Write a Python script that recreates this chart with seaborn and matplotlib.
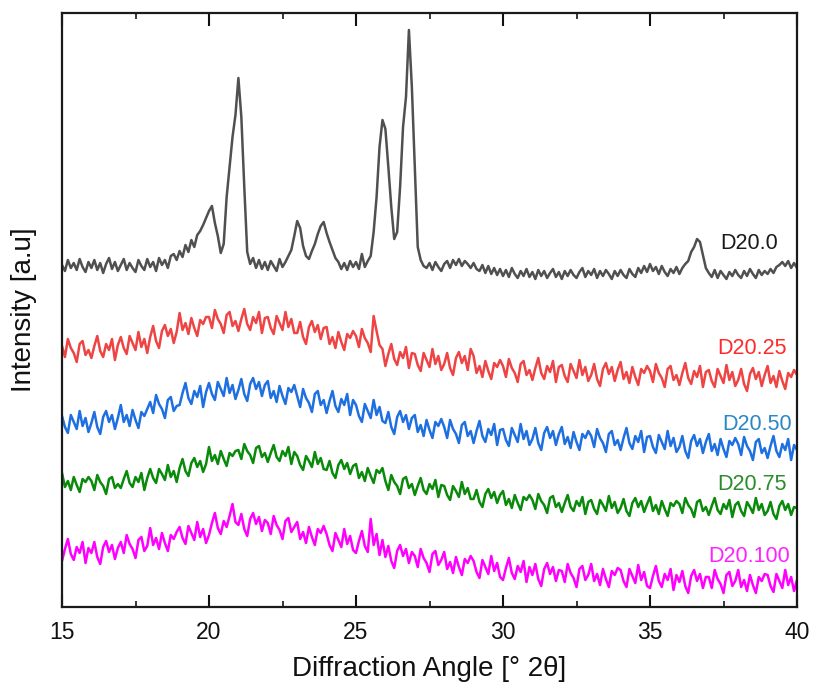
import numpy as np
import pandas as pd
import matplotlib
matplotlib.use("Agg")
import matplotlib.pyplot as plt
import seaborn as sns
from matplotlib.ticker import MultipleLocator

# ---- data (2theta from 15 to 40 deg, 0.1 deg step; stacked intensity, a.u.) ----
two_theta = [round(15 + 0.1 * i, 1) for i in range(251)]

d20_0 = [
    342, 336, 347, 339, 344, 337, 348, 340, 335, 345,
    339, 347, 337, 344, 334, 343, 349, 338, 345, 336,
    342, 348, 337, 344, 339, 335, 347, 341, 337, 348,
    340, 345, 336, 349, 342, 347, 339, 351, 353, 347,
    356, 350, 362, 355, 367, 360, 372, 376, 382, 389,
    396, 401, 384, 371, 354, 363, 410, 440, 470, 492,
    529, 490, 420, 355, 343, 349, 339, 347, 338, 345,
    337, 346, 341, 336, 348, 340, 345, 351, 357, 371,
    386, 379, 361, 351, 348, 356, 363, 373, 381, 385,
    374, 365, 357, 349, 345, 338, 344, 337, 346, 340,
    345, 338, 353, 340, 346, 351, 375, 410, 460, 487,
    478, 440, 400, 368, 375, 420, 480, 510, 577, 520,
    440, 360, 347, 341, 339, 344, 337, 345, 340, 336,
    343, 346, 339, 347, 342, 348, 341, 346, 343, 339,
    344, 338, 336, 342, 334, 341, 333, 339, 332, 338,
    331, 337, 330, 339, 333, 329, 336, 331, 338, 330,
    335, 328, 337, 331, 336, 329, 334, 338, 330, 335,
    328, 336, 331, 337, 332, 329, 335, 339, 330, 336,
    332, 338, 329, 336, 331, 337, 333, 328, 336, 331,
    337, 332, 329, 338, 333, 330, 339, 334, 341, 335,
    343, 336, 340, 333, 341, 335, 331, 338, 334, 340,
    333, 339, 343, 346, 355, 360, 368, 365, 352, 339,
    334, 330, 337, 329, 336, 332, 328, 335, 331, 337,
    332, 329, 336, 331, 338, 333, 329, 337, 332, 336,
    333, 338, 334, 340, 342, 345, 341, 346, 339, 344,
    339,
]

d20_25 = [
    261, 250, 268, 259, 254, 245, 263, 266, 252, 257,
    249, 261, 271, 256, 250, 263, 257, 268, 247, 262,
    270, 259, 253, 271, 264, 257, 275, 260, 268, 254,
    270, 281, 266, 259, 276, 282, 271, 278, 264, 275,
    294, 277, 284, 273, 289, 279, 271, 287, 283, 290,
    290, 279, 297, 288, 283, 274, 292, 295, 281, 286,
    276, 288, 298, 283, 277, 290, 284, 295, 274, 289,
    290, 279, 273, 291, 284, 277, 295, 280, 288, 274,
    274, 285, 270, 263, 280, 286, 275, 282, 268, 279,
    280, 263, 270, 259, 275, 265, 257, 273, 269, 276,
    271, 260, 278, 269, 264, 255, 291, 276, 262, 258,
    241, 253, 263, 248, 242, 255, 249, 260, 239, 254,
    253, 242, 236, 254, 247, 240, 258, 243, 251, 237,
    243, 254, 239, 232, 249, 255, 244, 251, 237, 258,
    251, 234, 241, 230, 246, 236, 228, 244, 240, 247,
    241, 230, 248, 239, 234, 225, 243, 246, 232, 237,
    227, 239, 249, 234, 228, 241, 235, 246, 225, 240,
    242, 231, 225, 243, 236, 229, 247, 232, 240, 226,
    232, 243, 228, 221, 238, 244, 233, 240, 226, 237,
    245, 228, 235, 224, 240, 230, 222, 238, 234, 241,
    236, 225, 243, 234, 229, 220, 238, 241, 227, 232,
    222, 234, 244, 229, 223, 236, 230, 241, 220, 235,
    237, 226, 220, 238, 231, 224, 242, 227, 235, 221,
    227, 238, 223, 216, 233, 239, 228, 235, 221, 232,
    241, 224, 231, 220, 236, 226, 218, 234, 230, 237,
    232,
]

d20_50 = [
    191, 180, 174, 192, 185, 178, 196, 181, 189, 175,
    184, 195, 180, 173, 190, 196, 185, 192, 178, 189,
    202, 185, 192, 181, 197, 187, 179, 195, 191, 198,
    205, 194, 212, 203, 198, 189, 207, 210, 196, 201,
    202, 214, 224, 209, 203, 216, 210, 221, 200, 215,
    224, 213, 207, 225, 218, 211, 229, 214, 222, 208,
    217, 228, 213, 206, 223, 229, 218, 225, 211, 222,
    226, 209, 216, 205, 221, 211, 203, 219, 215, 222,
    211, 200, 218, 209, 204, 195, 213, 216, 202, 207,
    194, 206, 216, 201, 195, 208, 202, 213, 192, 207,
    202, 191, 185, 203, 196, 189, 207, 192, 200, 186,
    184, 195, 180, 173, 190, 196, 185, 192, 178, 189,
    192, 175, 182, 171, 187, 177, 169, 185, 181, 188,
    180, 169, 187, 178, 173, 164, 182, 185, 171, 176,
    164, 176, 186, 171, 165, 178, 172, 183, 162, 177,
    178, 167, 161, 179, 172, 165, 183, 168, 176, 162,
    168, 179, 164, 157, 174, 180, 169, 176, 162, 173,
    180, 163, 170, 159, 175, 165, 157, 173, 169, 176,
    171, 160, 178, 169, 164, 155, 173, 176, 162, 167,
    157, 169, 179, 164, 158, 171, 165, 176, 155, 170,
    171, 160, 154, 172, 165, 158, 176, 161, 169, 155,
    160, 171, 156, 149, 166, 172, 161, 168, 154, 165,
    173, 156, 163, 152, 168, 158, 150, 166, 162, 169,
    163, 152, 170, 161, 156, 147, 165, 168, 154, 159,
    149, 161, 171, 156, 150, 163, 157, 168, 147, 162,
    157,
]

d20_75 = [
    134, 120, 126, 117, 130, 122, 115, 128, 125, 130,
    126, 117, 132, 125, 121, 113, 128, 130, 119, 123,
    119, 128, 136, 124, 120, 130, 125, 134, 117, 129,
    138, 129, 124, 138, 133, 127, 142, 130, 136, 125,
    139, 148, 136, 131, 144, 149, 140, 146, 135, 143,
    160, 146, 152, 143, 156, 148, 141, 154, 151, 156,
    157, 148, 163, 156, 152, 144, 159, 161, 150, 154,
    145, 154, 162, 150, 146, 156, 151, 160, 143, 155,
    151, 142, 137, 151, 146, 140, 155, 143, 149, 138,
    137, 146, 134, 129, 142, 147, 138, 144, 133, 141,
    143, 129, 135, 126, 139, 131, 124, 137, 134, 139,
    126, 117, 132, 125, 121, 113, 128, 130, 119, 123,
    112, 121, 129, 117, 113, 123, 118, 127, 110, 122,
    121, 112, 107, 121, 116, 110, 125, 113, 119, 108,
    108, 117, 105, 100, 113, 118, 109, 115, 104, 112,
    116, 102, 108, 99, 112, 104, 97, 110, 107, 112,
    107, 98, 113, 106, 102, 94, 109, 111, 100, 104,
    95, 104, 112, 100, 96, 106, 101, 110, 93, 105,
    107, 98, 93, 107, 102, 96, 111, 99, 105, 94,
    99, 108, 96, 91, 104, 109, 100, 106, 95, 103,
    110, 96, 102, 93, 106, 98, 91, 104, 101, 106,
    103, 94, 109, 102, 98, 90, 105, 107, 96, 100,
    92, 101, 109, 97, 93, 103, 98, 107, 90, 102,
    105, 96, 91, 105, 100, 94, 109, 97, 103, 92,
    96, 105, 93, 88, 101, 106, 97, 103, 92, 100,
    99,
]

d20_100 = [
    46, 58, 68, 53, 47, 60, 54, 65, 44, 59,
    54, 65, 50, 43, 60, 66, 55, 62, 48, 59,
    65, 54, 72, 63, 58, 49, 67, 70, 56, 61,
    79, 62, 69, 58, 74, 64, 56, 72, 68, 75,
    80, 69, 63, 81, 74, 67, 85, 70, 78, 64,
    72, 84, 94, 79, 73, 86, 80, 91, 103, 85,
    82, 93, 78, 71, 88, 94, 83, 90, 76, 87,
    84, 73, 91, 82, 77, 68, 86, 89, 75, 80,
    85, 68, 75, 64, 80, 70, 62, 78, 74, 81,
    73, 62, 56, 74, 67, 60, 78, 63, 71, 57,
    54, 66, 76, 61, 55, 88, 62, 73, 52, 67,
    50, 61, 46, 39, 56, 62, 51, 58, 44, 55,
    51, 40, 58, 49, 44, 35, 53, 56, 42, 47,
    55, 38, 45, 34, 50, 40, 32, 48, 44, 51,
    46, 35, 29, 47, 40, 33, 51, 36, 44, 30,
    27, 39, 49, 34, 28, 41, 35, 46, 25, 40,
    32, 43, 28, 21, 38, 44, 33, 40, 26, 37,
    36, 25, 43, 34, 29, 20, 38, 41, 27, 32,
    43, 26, 33, 22, 38, 28, 20, 36, 32, 39,
    37, 26, 20, 38, 31, 24, 42, 27, 35, 21,
    19, 31, 41, 26, 20, 33, 27, 38, 17, 32,
    25, 36, 21, 14, 31, 37, 26, 33, 19, 30,
    30, 19, 37, 28, 23, 14, 32, 35, 21, 26,
    37, 20, 27, 16, 32, 22, 14, 30, 26, 33,
    32, 21, 15, 33, 26, 19, 37, 22, 30, 16,
    27,
]

sample_names = ["D20.0", "D20.25", "D20.50", "D20.75", "D20.100"]
series = [d20_0, d20_25, d20_50, d20_75, d20_100]

# ---- styling ----
line_colors = ["#505050", "#EE4444", "#1E6FE0", "#0A8A0A", "#FF00FF"]
label_colors = ["#1a1a1a", "#FF2A2A", "#2A88C4", "#2A8C2A", "#FF22FF"]
label_pos = [(37.38, 363), (37.28, 258), (37.45, 182), (37.28, 122), (36.97, 50)]

sns.set_style("white")
plt.rcParams["font.family"] = ["Liberation Sans", "DejaVu Sans"]

rows = []
for name, vals in zip(sample_names, series):
    for t, v in zip(two_theta, vals):
        rows.append((name, t, v))
df = pd.DataFrame(rows, columns=["sample", "two_theta", "intensity"])

fig = plt.figure(figsize=(8.14, 6.93), dpi=100)
ax = fig.add_axes([62 / 814, 1 - 607 / 693, (797 - 62) / 814, (607 - 13) / 693])

sns.lineplot(data=df, x="two_theta", y="intensity", hue="sample",
             hue_order=sample_names, palette=line_colors, linewidth=1.8,
             legend=False, ax=ax, estimator=None, sort=False)

for name, col, (lx, ly) in zip(sample_names, label_colors, label_pos):
    ax.text(lx, ly, name, color=col, fontsize=15.5, ha="left", va="center")

ax.set_xlim(15, 40)
ax.set_ylim(0, 594)
ax.xaxis.set_major_locator(MultipleLocator(5))
ax.xaxis.set_minor_locator(MultipleLocator(2.5))
ax.set_yticks([])
ax.tick_params(axis="x", which="major", direction="in", length=9, width=1.5,
               top=True, bottom=True, labelsize=16.5, pad=10, colors="#111111")
ax.tick_params(axis="x", which="minor", direction="in", length=4.5, width=1.3,
               top=True, bottom=True)
for sp in ax.spines.values():
    sp.set_visible(True)
    sp.set_linewidth(1.6)
    sp.set_color("#1a1a1a")

ax.set_xlabel("Diffraction Angle [° 2θ]", fontsize=20, labelpad=9, color="#111111")
ax.set_ylabel("Intensity [a.u]", fontsize=20, labelpad=18, color="#111111")

fig.savefig("out.png", dpi=100)
